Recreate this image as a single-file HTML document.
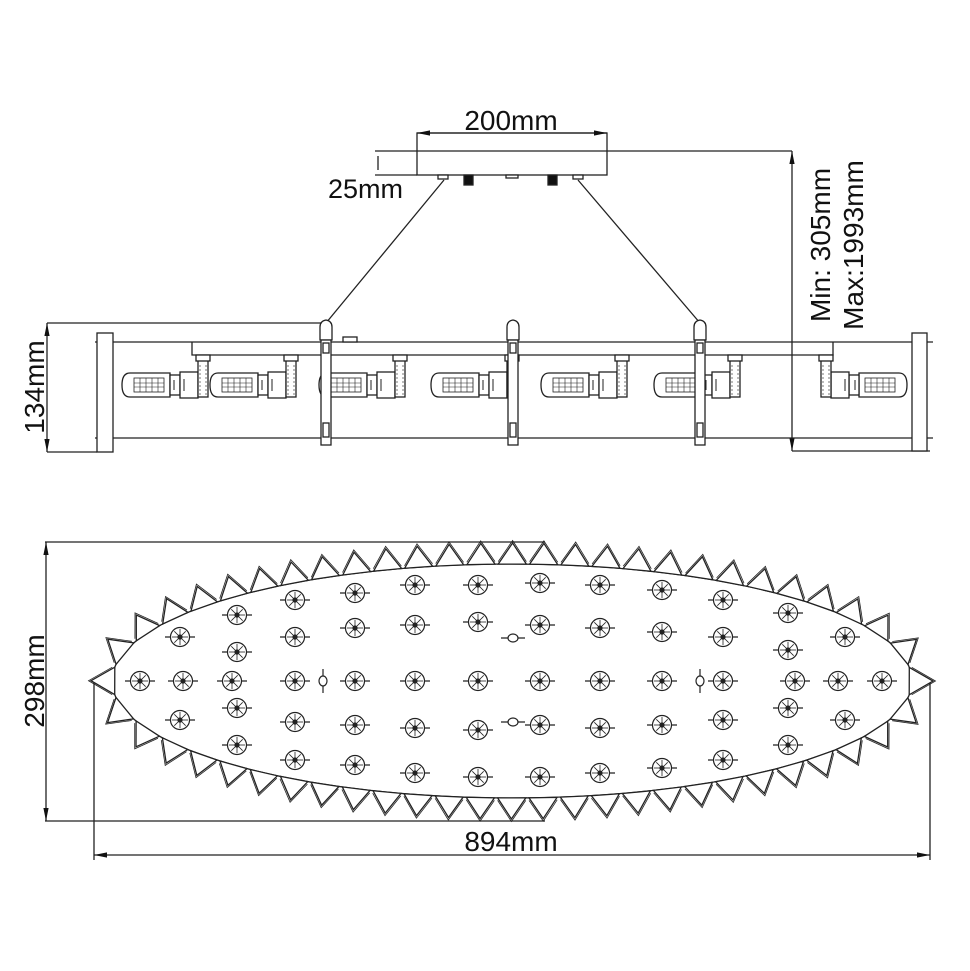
<!DOCTYPE html>
<html><head><meta charset="utf-8"><style>
html,body{margin:0;padding:0;background:#fff}
svg{display:block}
text{font-family:"Liberation Sans",Arial,sans-serif;fill:#111}
</style></head><body>
<svg id="s" width="970" height="971" viewBox="0 0 970 971" xmlns="http://www.w3.org/2000/svg">
<defs>
<marker id="a" markerWidth="10" markerHeight="6" refX="10" refY="3" orient="auto-start-reverse"><path d="M0,1 L10,3 L0,5 z" fill="#111"/></marker>
<g id="lamp" fill="#fff" stroke="#222" stroke-width="1.3">
<path d="M6,-12 H46 V12 H6 Q-2,12 -2,0 Q-2,-12 6,-12 z"/>
<rect x="10" y="-7" width="30" height="14" fill="none" stroke-width="0.8"/>
<path d="M10,-2 H40 M10,2 H40 M16,-7 V7 M22,-7 V7 M28,-7 V7 M34,-7 V7" stroke-width="0.6"/>
<rect x="46" y="-10" width="10" height="20"/>
<rect x="56" y="-13" width="18" height="26"/>
<path d="M50,-5 V5 M60,-6 V6" stroke-width="1"/>
<rect x="74" y="-26" width="10" height="38"/>
<path d="M76,-20 V10 M82,-20 V10" stroke-width="0.6" stroke-dasharray="2,2"/>
<rect x="72" y="-30" width="14" height="6"/>
</g>
<g id="post" fill="#fff" stroke="#222" stroke-width="1.3">
<path d="M-6,17 V4 Q-6,-2 0,-3 Q6,-2 6,4 V17 z"/>
<rect x="-5" y="17" width="10" height="105"/>
<rect x="-3" y="20" width="6" height="10"/>
<rect x="-3" y="100" width="6" height="14"/>
</g>
</defs>
<g stroke="#222" stroke-width="1.3" fill="none">
<rect x="417" y="133" width="190" height="42" fill="#fff"/>
<line x1="375" y1="151" x2="792" y2="151"/>
<line x1="375" y1="175" x2="417" y2="175"/>
<line x1="378" y1="156" x2="378" y2="170"/>
<line x1="417" y1="133" x2="607" y2="133" marker-start="url(#a)" marker-end="url(#a)"/>
<rect x="438" y="175" width="10" height="4" fill="#fff"/>
<rect x="573" y="175" width="10" height="4" fill="#fff"/>
<rect x="464" y="175" width="9" height="10" fill="#111"/>
<rect x="548" y="175" width="9" height="10" fill="#111"/>
<rect x="506" y="175" width="12" height="3" fill="#fff"/>
<line x1="444" y1="180" x2="326" y2="323"/>
<line x1="578" y1="180" x2="700" y2="323"/>
<line x1="792" y1="151" x2="792" y2="451" marker-start="url(#a)" marker-end="url(#a)"/>
<line x1="792" y1="451" x2="930" y2="451"/>
<line x1="47" y1="323" x2="322" y2="323"/>
<line x1="47" y1="452" x2="97" y2="452"/>
<line x1="47" y1="323" x2="47" y2="452" marker-start="url(#a)" marker-end="url(#a)"/>
<line x1="95" y1="342" x2="933" y2="342"/>
<line x1="95" y1="438" x2="933" y2="438"/>
<path d="M192,342 V355 H833 V342"/>
<rect x="97" y="333" width="16" height="119" fill="#fff"/>
<rect x="912" y="333" width="15" height="118" fill="#fff"/>
<rect x="343" y="337" width="14" height="5" fill="#fff"/>
</g>
<use href="#lamp" x="124" y="385"/>
<use href="#lamp" x="212" y="385"/>
<use href="#lamp" x="321" y="385"/>
<use href="#lamp" x="433" y="385"/>
<use href="#lamp" x="543" y="385"/>
<use href="#lamp" x="656" y="385"/>
<use href="#lamp" transform="translate(905,385) scale(-1,1)"/>
<use href="#post" x="326" y="323"/>
<use href="#post" x="513" y="323"/>
<use href="#post" x="700" y="323"/>
<text x="511" y="130" font-size="28" text-anchor="middle">200mm</text>
<text x="328" y="198" font-size="27">25mm</text>
<text transform="translate(830,245) rotate(-90)" font-size="28" text-anchor="middle">Min: 305mm</text>
<text transform="translate(863,245) rotate(-90)" font-size="28" text-anchor="middle">Max:1993mm</text>
<text transform="translate(44,387) rotate(-90)" font-size="28" text-anchor="middle">134mm</text>
<g stroke="#222" stroke-width="1.3" fill="none">
<line x1="45" y1="542" x2="545" y2="542"/>
<line x1="45" y1="821" x2="545" y2="821"/>
<line x1="46" y1="542" x2="46" y2="821" marker-start="url(#a)" marker-end="url(#a)"/>
<line x1="94" y1="681" x2="94" y2="860"/>
<line x1="930" y1="681" x2="930" y2="860"/>
<line x1="94" y1="855" x2="930" y2="855" marker-start="url(#a)" marker-end="url(#a)"/>
<ellipse cx="512" cy="681" rx="400" ry="117"/>
</g>
<g id="tri" stroke="#222" stroke-width="1.3" fill="#fff"></g>
<g id="cry" stroke="#222" stroke-width="1.2" fill="#fff"></g>
<text x="511" y="851" font-size="28" text-anchor="middle">894mm</text>
<text transform="translate(44,681) rotate(-90)" font-size="28" text-anchor="middle">298mm</text>
</svg>
<script>
var cx=512,cy=681,rx=400,ry=117;
var N=4000,pts=[],L=0,prev=null;
for(var i=0;i<=N;i++){var t=i/N*2*Math.PI;var p=[cx+rx*Math.cos(t),cy+ry*Math.sin(t)];if(prev)L+=Math.hypot(p[0]-prev[0],p[1]-prev[1]);pts.push([p[0],p[1],L,t]);prev=p;}
var n=56,step=L/n,tg=document.getElementById('tri'),s="";
function at(d){d=((d%L)+L)%L;for(var k=0;k<pts.length;k++)if(pts[k][2]>=d)return pts[k];return pts[0];}
for(var j=0;j<n;j++){
 var d=j*step;var a=at(d-14),b=at(d+14),m=at(d);
 var t=m[3];var nx=Math.cos(t)/rx,ny=Math.sin(t)/ry,nl=Math.hypot(nx,ny);nx/=nl;ny/=nl;
 var tip=[m[0]+nx*21,m[1]+ny*21];
 s+='<path d="M'+a[0].toFixed(1)+','+a[1].toFixed(1)+' L'+tip[0].toFixed(1)+','+tip[1].toFixed(1)+' L'+b[0].toFixed(1)+','+b[1].toFixed(1)+' z"/>';
 s+='<path fill="none" stroke-width="0.8" d="M'+(a[0]+nx*2.5).toFixed(1)+','+(a[1]+ny*2.5).toFixed(1)+' L'+(tip[0]+nx*2.5).toFixed(1)+','+(tip[1]+ny*2.5).toFixed(1)+' L'+(b[0]+nx*2.5).toFixed(1)+','+(b[1]+ny*2.5).toFixed(1)+'"/>';
}
tg.innerHTML=s;
var C=[[237,615],[295,600],[355,593],[415,585],[478,585],[540,583],[600,585],[662,590],[723,600],[788,613],
[180,637],[237,652],[295,637],[355,628],[415,625],[478,622],[540,625],[600,628],[662,632],[723,637],[788,650],[845,637],
[140,681],[183,681],[232,681],[295,681],[355,681],[415,681],[478,681],[540,681],[600,681],[662,681],[723,681],[795,681],[838,681],[882,681],
[237,708],[180,720],[237,745],[295,722],[355,725],[415,728],[478,730],[540,725],[600,728],[662,725],[723,720],[788,708],[845,720],[788,745],
[295,760],[355,765],[415,773],[478,777],[540,777],[600,773],[662,768],[723,760]];
var cs="";
C.forEach(function(c){var x=c[0],y=c[1];
cs+='<line x1="'+(x-15)+'" y1="'+y+'" x2="'+(x+15)+'" y2="'+y+'"/><circle cx="'+x+'" cy="'+y+'" r="9.5"/>';
for(var k=0;k<8;k++){var an=k*Math.PI/4;cs+='<line stroke-width="0.8" x1="'+x+'" y1="'+y+'" x2="'+(x+8*Math.cos(an)).toFixed(1)+'" y2="'+(y+8*Math.sin(an)).toFixed(1)+'"/>';}
cs+='<circle cx="'+x+'" cy="'+y+'" r="2" fill="#222"/>';});
[[323,681,'v'],[700,681,'v'],[513,638,'h'],[513,722,'h']].forEach(function(c){var x=c[0],y=c[1];
if(c[2]=='v')cs+='<line x1="'+x+'" y1="'+(y-12)+'" x2="'+x+'" y2="'+(y+12)+'"/>';else cs+='<line x1="'+(x-12)+'" y1="'+y+'" x2="'+(x+12)+'" y2="'+y+'"/>';
cs+='<ellipse cx="'+x+'" cy="'+y+'" rx="'+(c[2]=='v'?4:5)+'" ry="'+(c[2]=='v'?5:4)+'"/>';});
document.getElementById('cry').innerHTML=cs;
</script>
</body></html>
